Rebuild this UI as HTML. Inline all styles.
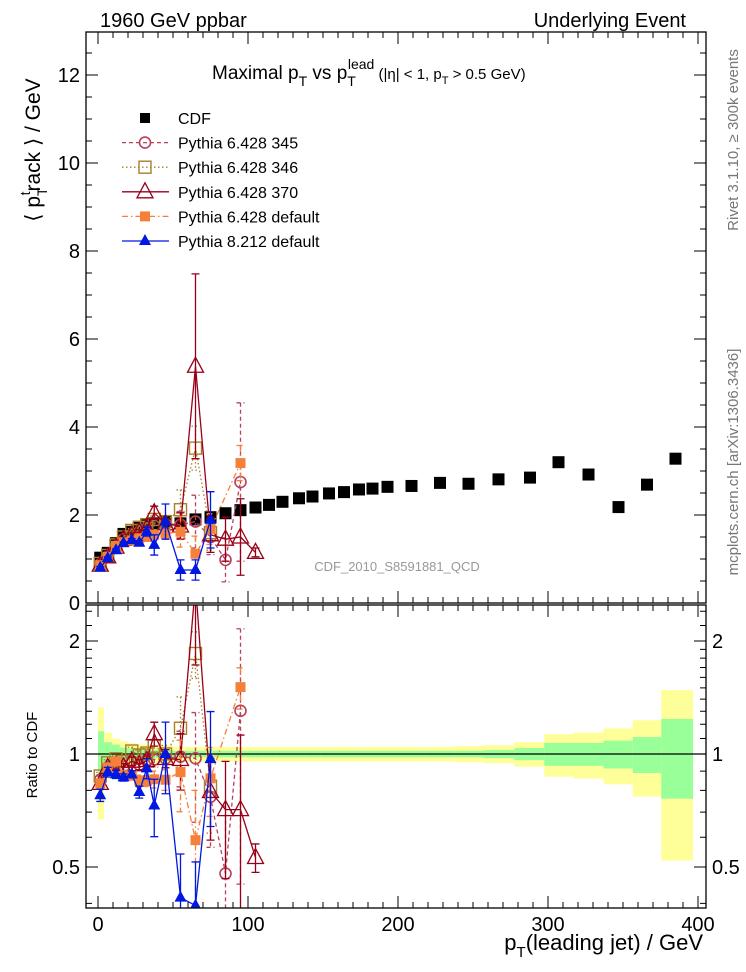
<!DOCTYPE html>
<html><head><meta charset="utf-8"><style>
body{margin:0;background:#fff;}
svg{display:block;font-family:"Liberation Sans",sans-serif;}
</style></head><body>
<svg id="c" width="746" height="972" viewBox="0 0 746 972">
<defs>
<clipPath id="cm"><rect x="86" y="32" width="620" height="571"/></clipPath>
<clipPath id="cr"><rect x="86" y="605" width="620" height="303"/></clipPath>
</defs>
<text x="100" y="27" font-size="20">1960 GeV ppbar</text>
<text x="686" y="27" font-size="20" text-anchor="end">Underlying Event</text>
<text x="212" y="79" font-size="19">Maximal p<tspan font-size="14" dy="7">T</tspan><tspan dy="-7"> vs p</tspan><tspan font-size="14" dy="7">T</tspan><tspan font-size="14" dy="-17" dx="-8">lead</tspan><tspan font-size="15" dy="10"> (|η| &lt; 1, p</tspan><tspan font-size="11" dy="5">T</tspan><tspan font-size="15" dy="-5"> &gt; 0.5 GeV)</tspan></text>
<text transform="translate(40,150) rotate(-90)" font-size="21" text-anchor="middle">⟨ p<tspan font-size="14" dy="7">T</tspan><tspan font-size="14" dy="-17" dx="-8">t</tspan><tspan dy="10">rack ⟩ / GeV</tspan></text>
<text transform="translate(37,755) rotate(-90)" font-size="15" text-anchor="middle">Ratio to CDF</text>
<text x="703" y="950" font-size="22" text-anchor="end">p<tspan font-size="15" dy="7">T</tspan><tspan dy="-7">(leading jet) / GeV</tspan></text>
<text transform="translate(738,140) rotate(-90)" font-size="15" fill="#777" text-anchor="middle">Rivet 3.1.10, ≥ 300k events</text>
<text transform="translate(738,462) rotate(-90)" font-size="15" fill="#777" text-anchor="middle">mcplots.cern.ch [arXiv:1306.3436]</text>
<text x="397" y="571" font-size="13" fill="#999" text-anchor="middle">CDF_2010_S8591881_QCD</text>
<g id="gr" clip-path="url(#cr)"></g>
<g id="gm" clip-path="url(#cm)"></g>
<g id="ax"></g>
<g id="lg"></g>
</svg>
<script>
const cdfX=[1.5,6.5,12,17,22.5,27.5,32.5,37.5,45,55,65,75,85,95,105,114,123,134,143,154,164,174,183,193,209,228,247,267,288,307,327,347,366,385];
const cdfY=[1.03,1.14,1.36,1.57,1.62,1.73,1.77,1.81,1.85,1.81,1.90,1.95,2.04,2.11,2.17,2.23,2.30,2.38,2.42,2.49,2.52,2.58,2.60,2.64,2.66,2.73,2.71,2.81,2.85,3.20,2.92,2.18,2.69,3.28];
const cdfStatRel=[0.15,0.075,0.06,0.04,0.035,0.03,0.03,0.025,0.025,0.02,0.02,0.02,0.02,0.02,0.02,0.02,0.02,0.02,0.02,0.02,0.02,0.02,0.02,0.02,0.02,0.02,0.02,0.025,0.037,0.07,0.07,0.085,0.11,0.24];
const cdfTotRel=[0.33,0.14,0.1,0.08,0.07,0.06,0.06,0.055,0.055,0.045,0.045,0.045,0.045,0.045,0.045,0.045,0.045,0.045,0.045,0.045,0.045,0.045,0.045,0.045,0.045,0.045,0.05,0.055,0.075,0.13,0.14,0.17,0.23,0.48];
const p345=[0.88,1.05,1.28,1.45,1.55,1.62,1.7,1.75,1.8,1.78,1.85,1.5,0.98,2.75];
const p345Err=[0.02,0.02,0.03,0.03,0.04,0.05,0.05,0.08,0.1,0.3,0.6,0.4,0.5,1.8];
const p346=[0.9,1.08,1.32,1.5,1.65,1.72,1.78,1.9,1.85,2.12,3.52,1.6];
const p346Err=[0.02,0.02,0.03,0.03,0.04,0.05,0.05,0.08,0.1,0.45,0.5,0.4];
const p370=[0.86,1.05,1.27,1.45,1.55,1.62,1.7,2.05,1.8,1.75,5.38,1.55,1.45,1.5,1.15];
const p370Err=[0.02,0.02,0.03,0.03,0.04,0.05,0.05,0.15,0.1,0.3,2.1,0.4,0.5,0.87,0.1];
const pDef=[0.86,1.05,1.3,1.38,1.42,1.47,1.5,1.55,1.58,1.62,1.12,1.68,null,3.18];
const pDefErr=[0.02,0.02,0.03,0.03,0.04,0.05,0.05,0.08,0.1,0.35,0.4,0.35,0,0.4];
const p8=[0.8,1.02,1.2,1.36,1.43,1.37,1.62,1.32,1.85,0.75,0.75,1.89];
const p8Err=[0.03,0.03,0.03,0.03,0.03,0.05,0.1,0.23,0.4,0.23,0.23,0.64];
const xTicks=[0,100,200,300,400];
const yTicks=[0,2,4,6,8,10,12];
const rTicks=[0.5,1,2];

const NS="http://www.w3.org/2000/svg";
const X=v=>98+1.5*v, Y=v=>603-44*v, R=r=>754-113*Math.log2(r);
function mk(p,tag,a){const e=document.createElementNS(NS,tag);for(const k in a)e.setAttribute(k,a[k]);p.appendChild(e);return e;}
const gm=document.getElementById('gm'),gr=document.getElementById('gr'),ax=document.getElementById('ax'),lg=document.getElementById('lg');

// bands
const edges=[0];for(let i=0;i<cdfX.length-1;i++)edges.push((cdfX[i]+cdfX[i+1])/2);edges.push(396.7);
cdfX.forEach((x,i)=>{
 let b=mk(gr,'rect',{x:X(edges[i]),y:R(1+cdfTotRel[i]),width:X(edges[i+1])-X(edges[i]),height:R(1-cdfTotRel[i])-R(1+cdfTotRel[i]),fill:'#ffff99'});
 
 
});
cdfX.forEach((x,i)=>{
 let b=mk(gr,'rect',{x:X(edges[i]),y:R(1+cdfStatRel[i]),width:X(edges[i+1])-X(edges[i]),height:R(1-cdfStatRel[i])-R(1+cdfStatRel[i]),fill:'#99ff99'});
 
 
});
let one=mk(gr,'line',{x1:86,x2:706,y1:R(1),y2:R(1),stroke:'#000','stroke-width':1.3});



// cdf main
cdfX.forEach((x,i)=>{
 let s=mk(gm,'rect',{x:X(x)-6,y:Y(cdfY[i])-6,width:12,height:12,fill:'#000'});
 
 
});

const series=[
 {n:'pythia-345',v:p345,e:p345Err,c:'#b8405a',d:'4,3',m:'circle'},
 {n:'pythia-346',v:p346,e:p346Err,c:'#a8802a',d:'1.5,2.5',m:'osq'},
 {n:'pythia-370',v:p370,e:p370Err,c:'#990018',d:'',m:'tri'},
 {n:'pythia-default',v:pDef,e:pDefErr,c:'#f5803a',d:'6,3,1.5,3',m:'sq'},
 {n:'pythia8-default',v:p8,e:p8Err,c:'#0018e0',d:'',m:'ftri'}
];
function marker(g,m,c,x,y,name){
 let e;
 if(m==='circle')e=mk(g,'circle',{cx:x,cy:y,r:5.5,fill:'none',stroke:c,'stroke-width':1.6});
 else if(m==='osq')e=mk(g,'rect',{x:x-6,y:y-6,width:12,height:12,fill:'none',stroke:c,'stroke-width':1.4});
 else if(m==='sq')e=mk(g,'rect',{x:x-5,y:y-5,width:10,height:10,fill:c});
 else if(m==='tri')e=mk(g,'path',{d:`M${x},${y-9}L${x+8},${y+6}L${x-8},${y+6}Z`,fill:'none',stroke:c,'stroke-width':1.3});
 else e=mk(g,'path',{d:`M${x},${y-7}L${x+6},${y+4}L${x-6},${y+4}Z`,fill:c});
 
 
}
series.forEach(s=>{
 [['main',gm,Y,v=>v],['ratio',gr,R,null]].forEach(([k,g,F])=>{
  const pts=[];
  s.v.forEach((v,i)=>{if(v==null)return;const val=k==='main'?v:v/cdfY[i];pts.push([X(cdfX[i]),F(val),i,val]);});
  let l=mk(g,'polyline',{points:pts.map(p=>p[0]+','+p[1]).join(' '),fill:'none',stroke:s.c,'stroke-width':1.3,'stroke-dasharray':s.d});
  
  
  pts.forEach(p=>{
   const i=p[2];const er=k==='main'?s.e[i]:s.e[i]/cdfY[i];
   const lo=Math.max(p[3]-er,0.05);
   let eb=mk(g,'path',{d:`M${p[0]},${F(p[3]+er)}V${F(lo)}M${p[0]-4},${F(p[3]+er)}h8M${p[0]-4},${F(lo)}h8`,stroke:s.c,'stroke-width':1.3,'stroke-dasharray':s.d,fill:'none'});
   
   
   marker(g,s.m,s.c,p[0],p[1],s.n+'-'+k+'-point');
  });
 });
});

// frames & ticks
[[32,603],[605,908]].forEach(([t,b],fi)=>{
 let f=mk(ax,'rect',{x:86,y:t,width:620,height:b-t,fill:'none',stroke:'#000','stroke-width':1.3});
 
 
 let d='';
 for(let v=-0;v<=400;v+=10){const x=X(v);const L=v%100===0?12:6;d+=`M${x},${b}v${-L}M${x},${t}v${L}`;}
 let tk=mk(ax,'path',{d:d,stroke:'#000','stroke-width':1});
 
 
});
let d='';
for(let v=0;v<=12.6;v+=0.5){const y=Y(v);const L=v%2===0?12:6;d+=`M86,${y}h${L}M706,${y}h${-L}`;}
let yt=mk(ax,'path',{d:d,stroke:'#000','stroke-width':1});


d='';
[0.4,0.5,0.6,0.7,0.8,0.9,1,1.1,1.2,1.3,1.4,1.5,1.6,1.7,1.8,1.9,2,2.2,2.4].forEach(r=>{const y=R(r);const L=(r===0.5||r===1||r===2)?12:6;d+=`M86,${y}h${L}M706,${y}h${-L}`;});
let rt=mk(ax,'path',{d:d,stroke:'#000','stroke-width':1});


xTicks.forEach(v=>{
 let t=mk(ax,'text',{x:X(v),y:931,'font-size':20,'text-anchor':'middle'});t.textContent=v;
 
 
});
yTicks.forEach(v=>{
 let t=mk(ax,'text',{x:80,y:Y(v)+7,'font-size':20,'text-anchor':'end'});t.textContent=v;
 
 
});
rTicks.forEach(v=>{
 let t=mk(ax,'text',{x:80,y:R(v)+7,'font-size':20,'text-anchor':'end'});t.textContent=v;
 
 
 let t2=mk(ax,'text',{x:712,y:R(v)+7,'font-size':20});t2.textContent=v;
 
 
});
// mask "0" partially like reference
// legend
const legNames=['CDF','Pythia 6.428 345','Pythia 6.428 346','Pythia 6.428 370','Pythia 6.428 default','Pythia 8.212 default'];
legNames.forEach((nm,i)=>{
 const y=118+24.6*i;
 if(i===0){let s=mk(lg,'rect',{x:140,y:y-5,width:10,height:10,fill:'#000'});
  
  }
 else{const s=series[i-1];
  let l=mk(lg,'line',{x1:122,x2:169,y1:y,y2:y,stroke:s.c,'stroke-width':1.3,'stroke-dasharray':s.d});
  
  
  marker(lg,s.m,s.c,145,y,'legend-marker');}
 let t=mk(lg,'text',{x:178,y:y+6,'font-size':16});t.textContent=nm;
 
 
});
</script>
</body></html>
